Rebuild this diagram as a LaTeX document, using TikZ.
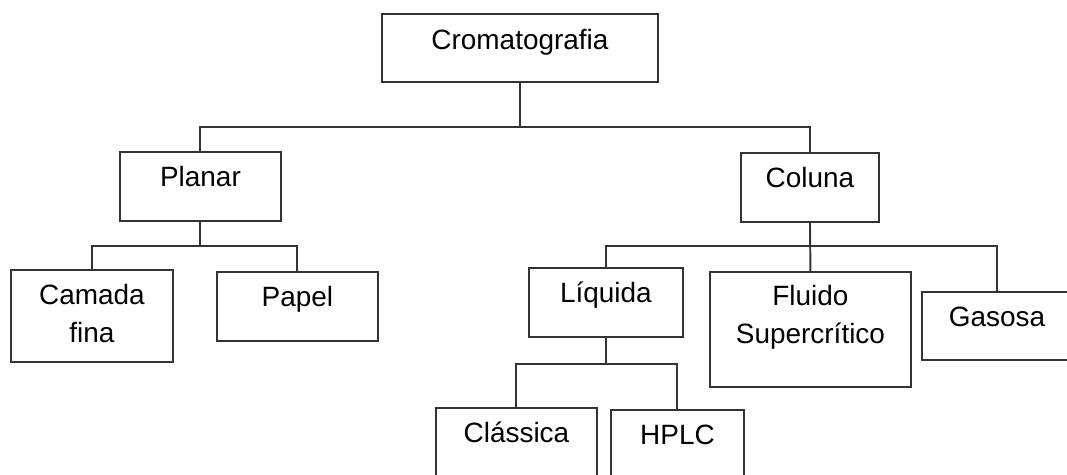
\documentclass[tikz,border=0pt]{standalone}
\usepackage{fontspec}
\setmainfont{Liberation Sans}
\usepackage{xcolor}
\usetikzlibrary{positioning}

\begin{document}
\begin{tikzpicture}[x=0.02cm, y=-0.02cm,
    box/.style={draw=black!80, line width=1.1pt, anchor=north west, inner sep=0pt},
    lbl/.style={anchor=base, align=center, inner sep=0pt, font=\fontsize{15.9}{21.8}\selectfont},
    tree/.style={draw=black!80, line width=1.1pt}]
    \useasboundingbox (0,0) rectangle (1067,475);

    % Caixas
    \node[box, minimum width=5.52cm, minimum height=1.36cm] (crom) at (381,13) {};
    \node[box, minimum width=3.22cm, minimum height=1.38cm] (planar) at (119,151) {};
    \node[box, minimum width=2.76cm, minimum height=1.38cm] (coluna) at (740,152) {};
    \node[box, minimum width=3.24cm, minimum height=1.84cm] (camada) at (10,269) {};
    \node[box, minimum width=3.22cm, minimum height=1.38cm] (papel) at (216,271) {};
    \node[box, minimum width=3.08cm, minimum height=1.38cm] (liquida) at (528,267) {};
    \node[box, minimum width=4.02cm, minimum height=2.30cm] (fluido) at (709,271) {};
    \node[box, minimum width=3.00cm, minimum height=1.36cm] (gasosa) at (921,291) {};
    \node[box, minimum width=3.22cm, minimum height=1.50cm] (classica) at (435,407) {};
    \node[box, minimum width=2.66cm, minimum height=1.46cm] (hplc) at (610,409) {};

    % Textos (base = ultima linha)
    \node[lbl] (cromT) at ([yshift=-0.74cm]crom.north) {Cromatografia};
    \node[lbl] (planarT) at ([yshift=-0.72cm]planar.north) {Planar};
    \node[lbl] (colunaT) at ([yshift=-0.72cm]coluna.north) {Coluna};
    \node[lbl] (camadaT) at ([yshift=-1.47cm]camada.north) {Camada\\fina};
    \node[lbl] (papelT) at ([yshift=-0.72cm]papel.north) {Papel};
    \node[lbl] (liquidaT) at ([yshift=-0.72cm]liquida.north) {Líquida};
    \node[lbl] (fluidoT) at ([yshift=-1.46cm]fluido.north) {Fluido\\Supercrítico};
    \node[lbl] (gasosaT) at ([yshift=-0.72cm]gasosa.north) {Gasosa};
    \node[lbl] (classicaT) at ([yshift=-0.72cm]classica.north) {Clássica};
    \node[lbl] (hplcT) at ([yshift=-0.72cm]hplc.north) {HPLC};

    % Ligacoes
    \coordinate (bus1) at (0,127);
    \coordinate (bus2) at (0,246);
    \coordinate (bus3) at (0,364);
    \draw[tree] (crom.south) -- (crom.south |- bus1) -| (planar.north);
    \draw[tree] (crom.south |- bus1) -| (coluna.north);
    \draw[tree] (planar.south) -- (planar.south |- bus2) -| (camada.north);
    \draw[tree] (planar.south |- bus2) -| (papel.north);
    \draw[tree] (coluna.south) -- (coluna.south |- bus2) -| (liquida.north);
    \draw[tree] (coluna.south |- bus2) -| (gasosa.north);
    \draw[tree] (coluna.south) -- (fluido.north);
    \draw[tree] (liquida.south) -- (liquida.south |- bus3) -| (classica.north);
    \draw[tree] (liquida.south |- bus3) -| (hplc.north);
\end{tikzpicture}
\end{document}
